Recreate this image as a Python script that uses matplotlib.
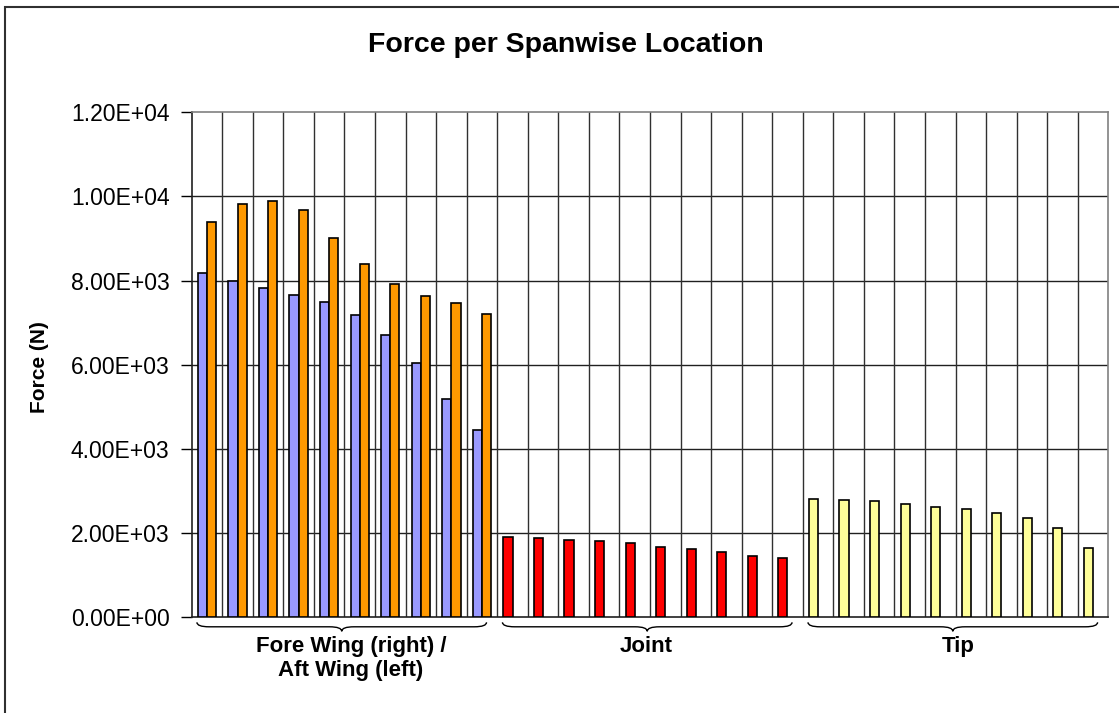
import matplotlib
matplotlib.use("Agg")
import matplotlib.pyplot as plt
from matplotlib.patches import Rectangle, PathPatch
from matplotlib.path import Path
from matplotlib.ticker import FuncFormatter
import matplotlib.transforms as mtransforms

plt.rcParams['font.family'] = ['Liberation Sans', 'DejaVu Sans']

# ---- data ----
group_labels = ["Fore Wing (right) /\nAft Wing (left)", "Joint", "Tip"]
aft_wing = [8190, 7985, 7826, 7660, 7500, 7191, 6716, 6036, 5181, 4458]      # blue (left)
fore_wing = [9387, 9829, 9893, 9679, 9007, 8389, 7913, 7628, 7476, 7215]     # orange (right)
joint = [1908, 1877, 1844, 1820, 1758, 1678, 1623, 1559, 1464, 1409]         # red
tip = [2818, 2795, 2764, 2700, 2629, 2567, 2472, 2353, 2122, 1647]           # yellow
y_ticks = [0, 2000, 4000, 6000, 8000, 10000, 12000]

W, H = 1119, 713
fig = plt.figure(figsize=(W / 100, H / 100), dpi=100)
ax = fig.add_axes([191.7 / W, 1 - 617.3 / H, (1108.3 - 191.7) / W, (617.3 - 112.3) / H])

n_per = len(aft_wing)
bw = 0.3
x_aft = [i - bw / 2 for i in range(n_per)]
x_fore = [i + bw / 2 for i in range(n_per)]
x_joint = [n_per + i - bw / 2 for i in range(n_per)]
x_tip = [2 * n_per + i - bw / 2 for i in range(n_per)]

kw = dict(width=bw, edgecolor='black', linewidth=1.2, zorder=3)
ax.bar(x_aft, aft_wing, color='#9999FF', **kw)
ax.bar(x_fore, fore_wing, color='#FF9900', **kw)
ax.bar(x_joint, joint, color='#FF0000', **kw)
ax.bar(x_tip, tip, color='#FFFF99', **kw)

ntot = 3 * n_per
ax.set_xlim(-0.5, ntot - 0.5)
ax.set_ylim(y_ticks[0], y_ticks[-1])
ax.set_yticks(y_ticks)
ax.yaxis.set_major_formatter(FuncFormatter(lambda v, p: '{:.2E}'.format(v)))
ax.set_xticks([])

# gridlines
for yv in y_ticks[1:-1]:
    ax.axhline(yv, color='#202020', linewidth=1.0, zorder=1)
for k in range(1, ntot):
    ax.axvline(k - 0.5, color='#303030', linewidth=1.0, zorder=1)

ax.tick_params(axis='y', length=8, width=1.0, pad=8, labelsize=16.5, direction='out')
for s in ['top', 'right']:
    ax.spines[s].set_color('#808080')
    ax.spines[s].set_linewidth(1.2)
for s in ['left', 'bottom']:
    ax.spines[s].set_color('#202020')
    ax.spines[s].set_linewidth(1.2)

ax.set_ylabel('Force (N)', fontsize=15, fontweight='bold')
ax.yaxis.set_label_coords(-0.156, 0.495)

fig.text(566 / W, 1 - 45 / H, 'Force per Spanwise Location', ha='center', va='center',
         fontsize=20.5, fontweight='bold')

# braces and group labels
trans = mtransforms.blended_transform_factory(ax.transData, ax.transAxes)
ah = 505.0
y_end = -5 / ah
y_flat = -9.5 / ah
y_tip = -14 / ah
label_x = [4.71, 14.36, 24.58]
for g in range(3):
    x0 = g * n_per - 0.33
    x1 = g * n_per + 9.15
    xc = (x0 + x1) / 2
    d = 0.4
    verts = [(x0, y_end), (x0, y_flat), (x0 + d, y_flat),
             (xc - d, y_flat),
             (xc, y_flat), (xc, y_tip),
             (xc, y_flat), (xc + d, y_flat),
             (x1 - d, y_flat),
             (x1, y_flat), (x1, y_end)]
    codes = [Path.MOVETO, Path.CURVE3, Path.CURVE3,
             Path.LINETO,
             Path.CURVE3, Path.CURVE3,
             Path.CURVE3, Path.CURVE3,
             Path.LINETO,
             Path.CURVE3, Path.CURVE3]
    ax.add_patch(PathPatch(Path(verts, codes), transform=trans, facecolor='none',
                           edgecolor='black', linewidth=1.0, clip_on=False))
    ax.text(label_x[g], -19 / ah, group_labels[g], transform=trans, ha='center', va='top',
            fontsize=16, fontweight='bold', linespacing=1.2)

# outer chart border
fig.add_artist(Rectangle((5 / W, -0.1), 1.2, 1 - 7 / H + 0.1, transform=fig.transFigure,
                         facecolor='none', edgecolor='#303030', linewidth=1.5, clip_on=False))

fig.savefig('out.png', dpi=100)
